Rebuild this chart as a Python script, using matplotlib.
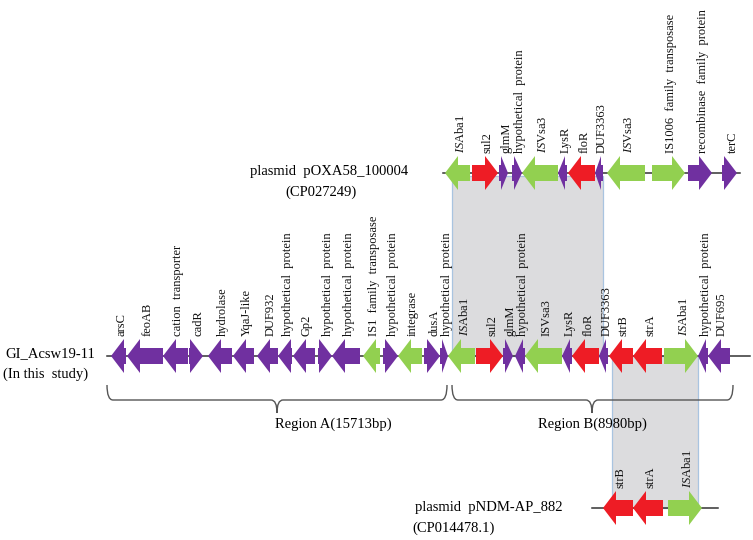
import matplotlib
matplotlib.use("Agg")
import matplotlib.pyplot as plt
from matplotlib.patches import Polygon, Rectangle, PathPatch
from matplotlib.path import Path

plt.rcParams['font.family'] = ['Liberation Serif', 'DejaVu Serif']
plt.rcParams['mathtext.fontset'] = 'custom'
plt.rcParams['mathtext.rm'] = 'Liberation Serif'
plt.rcParams['mathtext.it'] = 'Liberation Serif:italic'

PURPLE = '#7030A0'
GREEN = '#92D050'
RED = '#EE1C25'
ISABA = r'$\it{IS}$Aba1'
ISVSA = r'$\it{IS}$Vsa3'

# gene tracks: name, start, end, strand, colour key
mid_names = ['arsC', 'feoAB', 'cation  transporter', 'cadR', 'hydrolase', 'YqaJ-like',
             'DUF932', 'hypothetical  protein', 'Gp2', 'hypothetical  protein',
             'hypothetical  protein', 'IS1  family  transposase', 'hypothetical  protein',
             'integrase', 'dusA', 'hypothetical  protein', ISABA, 'sul2', 'glmM',
             'hypothetical  protein', 'ISVsa3', 'LysR', 'floR', 'DUF3363', 'strB', 'strA',
             ISABA, 'hypothetical  protein', 'DUF695']
mid_start = [111, 127, 163, 189, 208, 233, 257, 278, 293, 318, 332, 363, 383, 398, 424,
             440, 448, 476, 503, 515, 525, 562, 572, 599, 609, 633, 664, 698, 708]
mid_end = [126, 163, 188, 203, 232, 254, 278, 292, 315, 332, 360, 380, 398, 422, 440,
           448, 475, 503, 513, 525, 562, 572, 599, 608, 633, 662, 698, 708, 730]
mid_strand = [-1, -1, -1, 1, -1, -1, -1, -1, -1, 1, -1, -1, 1, -1, 1,
              1, -1, 1, 1, -1, -1, -1, -1, -1, -1, -1, 1, -1, -1]
mid_col = ['p', 'p', 'p', 'p', 'p', 'p', 'p', 'p', 'p', 'p', 'p', 'g', 'p', 'g', 'p',
           'p', 'g', 'r', 'p', 'p', 'g', 'p', 'r', 'p', 'r', 'r', 'g', 'p', 'p']

top_names = [ISABA, 'sul2', 'glmM', 'hypothetical  protein', ISVSA, 'LysR', 'floR',
             'DUF3363', ISVSA, 'IS1006  family  transposase', 'recombinase  family  protein',
             'terC']
top_start = [445, 472, 499, 512, 522, 558, 568, 595, 607, 652, 688, 722]
top_end = [470, 498, 508, 522, 558, 567, 595, 603, 645, 685, 712, 737]
top_strand = [-1, 1, 1, 1, -1, -1, -1, -1, -1, 1, 1, 1]
top_col = ['g', 'r', 'p', 'p', 'g', 'p', 'r', 'p', 'g', 'g', 'p', 'p']

bot_names = ['strB', 'strA', ISABA]
bot_start = [603, 633, 668]
bot_end = [633, 663, 702]
bot_strand = [-1, -1, 1]
bot_col = ['r', 'r', 'g']

colours = {'p': PURPLE, 'g': GREEN, 'r': RED}

fig = plt.figure(figsize=(7.53, 5.40), dpi=100)
ax = fig.add_axes([0, 0, 1, 1])
ax.set_xlim(0, 753)
ax.set_ylim(540, 0)
ax.axis('off')


def gene(x0, x1, y, strand, colour):
    h, H, L = 8, 17, 13
    n = x1 - x0
    if n <= L:
        L = max(n - 2, 1)
    if strand > 0:
        pts = [(x0, y - h), (x1 - L, y - h), (x1 - L, y - H), (x1, y),
               (x1 - L, y + H), (x1 - L, y + h), (x0, y + h)]
    else:
        pts = [(x1, y - h), (x0 + L, y - h), (x0 + L, y - H), (x0, y),
               (x0 + L, y + H), (x0 + L, y + h), (x1, y + h)]
    ax.add_patch(Polygon(pts, closed=True, fc=colour, ec='none', zorder=3))


def track(y, x0, x1, names, starts, ends, strands, cols, lab_dy=20):
    ax.plot([x0, x1], [y, y], color='#333333', lw=1.1, zorder=2)
    for nm, s, e, st, c in zip(names, starts, ends, strands, cols):
        gene(s, e, y, st, colours[c])
        ax.text((s + e) / 2 + 3, y - lab_dy, nm, rotation=90, ha='center', va='bottom',
                fontsize=9, color='#111111')


def brace(x0, x1, y, tip):
    up, down, r = 15, 13, 6
    verts = [(x0, y - up), (x0, y), (x0 + r, y), (tip - r, y), (tip, y), (tip, y + down),
             (tip, y), (tip + r, y), (x1 - r, y), (x1, y), (x1, y - up)]
    codes = [Path.MOVETO, Path.CURVE3, Path.CURVE3, Path.LINETO, Path.CURVE3, Path.CURVE3,
             Path.CURVE3, Path.CURVE3, Path.LINETO, Path.CURVE3, Path.CURVE3]
    ax.add_patch(PathPatch(Path(verts, codes), fc='none', ec='#555555', lw=1.0))


# homology shading
ax.add_patch(Rectangle((452, 176), 151, 180, fc='#DCDCDE', ec='#A9C4E0', lw=0.9, zorder=1))
ax.add_patch(Rectangle((612, 356), 86, 152, fc='#DCDCDE', ec='#A9C4E0', lw=0.9, zorder=1))

track(173, 443, 740, top_names, top_start, top_end, top_strand, top_col)
track(356, 107, 750, mid_names, mid_start, mid_end, mid_strand, mid_col)
track(508, 592, 718, bot_names, bot_start, bot_end, bot_strand, bot_col)

brace(107, 447, 400, 277)
brace(452, 733, 400, 592)
ax.text(333, 424, 'Region A(15713bp)', ha='center', va='center', fontsize=10.5)
ax.text(592, 424, 'Region B(8980bp)', ha='center', va='center', fontsize=10.5)

ax.text(250, 172, 'plasmid  pOXA58_100004', ha='left', va='center', fontsize=10.5)
ax.text(285, 192, '(CP027249)', ha='left', va='center', fontsize=10.5)
ax.text(5, 354, 'GI_Acsw19-11', ha='left', va='center', fontsize=10.5)
ax.text(3, 374, '(In this  study)', ha='left', va='center', fontsize=10.5)
ax.text(415, 508, 'plasmid  pNDM-AP_882', ha='left', va='center', fontsize=10.5)
ax.text(412, 528, '(CP014478.1)', ha='left', va='center', fontsize=10.5)

fig.savefig('out.png', dpi=100)
